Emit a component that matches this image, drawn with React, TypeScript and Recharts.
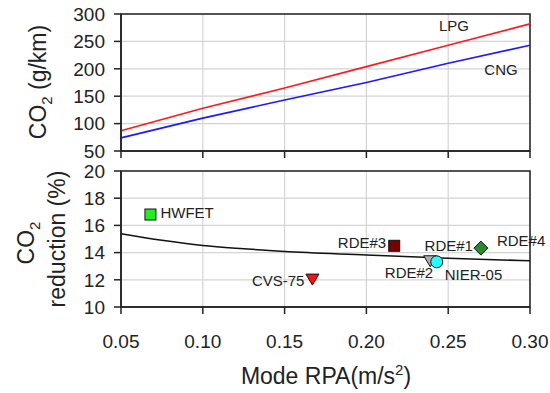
import React from 'react';
import {
  ComposedChart,
  Line,
  Scatter,
  XAxis,
  YAxis,
  CartesianGrid,
  ReferenceArea,
} from 'recharts';

// ---- data ----
const rpaTicks = [0.05, 0.1, 0.15, 0.2, 0.25, 0.3];
const lpgCO2 = [87, 128, 165, 204, 243, 282];
const cngCO2 = [74, 110, 143, 175, 210, 243];
const co2Ticks = [50, 100, 150, 200, 250, 300];

const fitRpa = [0.05, 0.075, 0.1, 0.125, 0.15, 0.2, 0.25, 0.3];
const fitReduction = [15.38, 14.9, 14.52, 14.28, 14.08, 13.83, 13.58, 13.4];
const reductionTicks = [10, 12, 14, 16, 18, 20];

const cycleNames = ['HWFET', 'CVS-75', 'RDE#3', 'RDE#2', 'NIER-05', 'RDE#4', 'RDE#1'];
const cycleRpa = [0.068, 0.167, 0.217, 0.239, 0.243, 0.27, 0.27];
const cycleReduction = [16.8, 12.05, 14.5, 13.4, 13.32, 14.33, 14.33];

// ---- built tables ----
const topData = rpaTicks.map((x, i) => ({ x, lpg: lpgCO2[i], cng: cngCO2[i] }));
const fitData = fitRpa.map((x, i) => ({ x, y: fitReduction[i] }));
const cycleData = cycleNames.map((name, i) => ({ name, x: cycleRpa[i], y: cycleReduction[i] }));

// ---- styles ----
const FONT = '"Liberation Sans", Arial, Helvetica, sans-serif';
const AXIS = '#222';
const GRID = '#d4d4d4';

const markerStyle: Record<string, any> = {
  HWFET: { shape: 'square', fill: '#22ee22', dx: 10, dy: -2, anchor: 'start' },
  'CVS-75': { shape: 'tri', fill: '#ff1010', dx: -8, dy: 2, anchor: 'end' },
  'RDE#3': { shape: 'square', fill: '#7a0000', dx: -8, dy: -3, anchor: 'end' },
  'RDE#2': { shape: 'tri', fill: '#b0b0b0', dx: 3, dy: 12, anchor: 'end' },
  'NIER-05': { shape: 'circle', fill: '#22ffff', dx: 8, dy: 13, anchor: 'start' },
  'RDE#4': { shape: 'none', fill: 'none', dx: 16, dy: -7, anchor: 'start' },
  'RDE#1': { shape: 'diamond', fill: '#2a8a2a', dx: -8, dy: -2, anchor: 'end' },
};

const renderMarker = (props: any) => {
  const { cx, cy, payload } = props;
  const st = markerStyle[payload.name];
  let mark: any = null;
  if (st.shape === 'square') {
    mark = <rect x={cx - 5.5} y={cy - 5.5} width={11} height={11} fill={st.fill} stroke="#111" strokeWidth={1} />;
  } else if (st.shape === 'tri') {
    mark = (
      <polygon
        points={`${cx - 6.5},${cy - 5} ${cx + 6.5},${cy - 5} ${cx},${cy + 6}`}
        fill={st.fill}
        stroke="#111"
        strokeWidth={1}
      />
    );
  } else if (st.shape === 'circle') {
    mark = <circle cx={cx} cy={cy} r={6} fill={st.fill} stroke="#111" strokeWidth={1} />;
  } else if (st.shape === 'diamond') {
    mark = (
      <polygon
        points={`${cx},${cy - 7} ${cx + 7},${cy} ${cx},${cy + 7} ${cx - 7},${cy}`}
        fill={st.fill}
        stroke="#111"
        strokeWidth={1}
      />
    );
  }
  return (
    <g>
      {mark}
      <text
        x={cx + st.dx}
        y={cy + st.dy}
        dy="0.35em"
        textAnchor={st.anchor}
        fontSize={15}
        fontFamily={FONT}
        fill="#222"
      >
        {payload.name}
      </text>
    </g>
  );
};

const tickStyle = { fontSize: 19, fill: '#222', fontFamily: FONT };
const emptyFmt = () => '';

export default function App() {
  return (
    <div
      style={{
        position: 'absolute',
        left: 0,
        top: 0,
        width: 550,
        height: 393,
        background: '#fff',
        fontFamily: FONT,
      }}
    >
      <div style={{ position: 'absolute', left: 0, top: 0 }}>
        <ComposedChart width={550} height={175} data={topData} margin={{ top: 14, right: 20, left: 0, bottom: 0 }}>
          <CartesianGrid stroke={GRID} strokeWidth={1.2} />
          <XAxis
            dataKey="x"
            type="number"
            domain={[0.05, 0.3]}
            ticks={rpaTicks}
            height={24}
            tickSize={7}
            tickFormatter={emptyFmt}
            stroke={AXIS}
            strokeWidth={1.5}
          />
          <YAxis
            type="number"
            domain={[50, 300]}
            ticks={co2Ticks}
            width={121}
            tickSize={7}
            tickMargin={9}
            tick={tickStyle}
            stroke={AXIS}
            strokeWidth={1.5}
            interval={0}
          />
          <ReferenceArea x1={0.05} x2={0.3} y1={50} y2={300} fill="none" stroke={AXIS} strokeWidth={1.5} />
          <Line dataKey="lpg" stroke="#ff1a1a" strokeWidth={1.6} dot={false} isAnimationActive={false} />
          <Line dataKey="cng" stroke="#1a1aff" strokeWidth={1.6} dot={false} isAnimationActive={false} />
        </ComposedChart>
      </div>
      <div style={{ position: 'absolute', left: 0, top: 150 }}>
        <ComposedChart width={550} height={243} margin={{ top: 21, right: 20, left: 0, bottom: 0 }}>
          <CartesianGrid stroke={GRID} strokeWidth={1.2} />
          <XAxis
            dataKey="x"
            type="number"
            domain={[0.05, 0.3]}
            ticks={rpaTicks}
            height={86}
            tickSize={7}
            tickMargin={21}
            tick={tickStyle}
            tickFormatter={(v: number) => v.toFixed(2)}
            stroke={AXIS}
            strokeWidth={1.5}
            interval={0}
          />
          <YAxis
            type="number"
            dataKey="y"
            domain={[10, 20]}
            ticks={reductionTicks}
            width={121}
            tickSize={7}
            tickMargin={9}
            tick={tickStyle}
            stroke={AXIS}
            strokeWidth={1.5}
            interval={0}
          />
          <ReferenceArea x1={0.05} x2={0.3} y1={10} y2={20} fill="none" stroke={AXIS} strokeWidth={1.5} />
          <Line
            data={fitData}
            dataKey="y"
            type="monotone"
            stroke="#111"
            strokeWidth={1.5}
            dot={false}
            isAnimationActive={false}
          />
          <Scatter data={cycleData} dataKey="y" shape={renderMarker} isAnimationActive={false} />
        </ComposedChart>
      </div>
      <svg
        width={550}
        height={393}
        style={{ position: 'absolute', left: 0, top: 0, pointerEvents: 'none' }}
        fontFamily={FONT}
      >
        <g transform="translate(38,82) rotate(-90)">
          <text x={0} y={0} dy="0.35em" textAnchor="middle" fontSize={23} fill="#222">
            CO
            <tspan fontSize={15} dy={6}>
              2
            </tspan>
            <tspan dy={-6}> (g/km)</tspan>
          </text>
        </g>
        <g transform="translate(26,243) rotate(-90)">
          <text x={0} y={0} dy="0.35em" textAnchor="middle" fontSize={23} fill="#222">
            CO
            <tspan fontSize={15} dy={6}>
              2
            </tspan>
          </text>
        </g>
        <g transform="translate(57,239) rotate(-90)">
          <text x={0} y={0} dy="0.35em" textAnchor="middle" fontSize={23} fill="#222">
            reduction (%)
          </text>
        </g>
        <text x={326} y={384} textAnchor="middle" fontSize={23} fill="#222">
          Mode RPA(m/s
          <tspan fontSize={15} dy={-9}>
            2
          </tspan>
          <tspan dy={9}>)</tspan>
        </text>
        <text x={454} y={26} dy="0.35em" textAnchor="middle" fontSize={15} fill="#222">
          LPG
        </text>
        <text x={501} y={70} dy="0.35em" textAnchor="middle" fontSize={15} fill="#222">
          CNG
        </text>
      </svg>
    </div>
  );
}
